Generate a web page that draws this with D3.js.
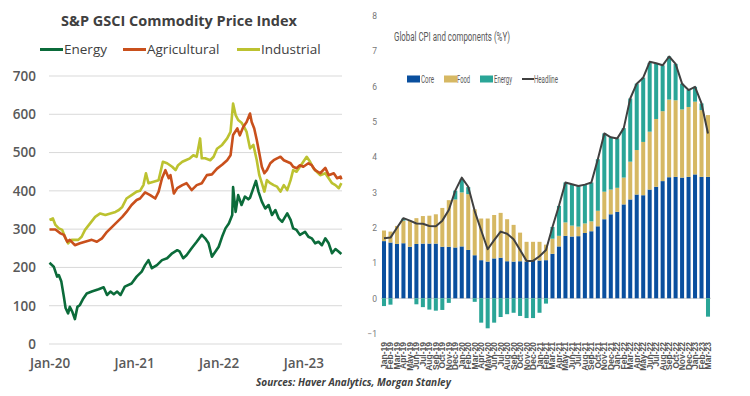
<!DOCTYPE html>
<html><head><meta charset="utf-8">
<script src="https://cdn.jsdelivr.net/npm/d3@7"></script>
<style>body{margin:0;background:#fff}svg{display:block}</style>
</head><body>
<svg id="c" width="750" height="396"></svg>
<script>
// ---------- Left panel data ----------
const commodityTitle = "S&P GSCI Commodity Price Index";
const commodityNames = ["Energy", "Agricultural", "Industrial"];
const commodityColors = ["#0b6b3a", "#c9501c", "#bcc230"];
const commodityYTicks = [0, 100, 200, 300, 400, 500, 600, 700];
const commodityXTicks = [2020, 2021, 2022, 2023];
const commodityXLabels = ["Jan-20", "Jan-21", "Jan-22", "Jan-23"];
const sourceNote = "Sources: Haver Analytics, Morgan Stanley";

// [decimal year, index level]
const energyIndex = [
 [2020.00,212],[2020.05,202],[2020.09,176],[2020.11,180],[2020.14,163],[2020.17,123],[2020.19,94],[2020.22,80],
 [2020.24,97],[2020.27,84],[2020.30,65],[2020.33,97],[2020.36,102],[2020.40,119],[2020.44,132],[2020.50,137],
 [2020.58,143],[2020.64,148],[2020.68,128],[2020.72,137],[2020.76,130],[2020.80,137],[2020.84,128],[2020.89,150],
 [2020.97,158],[2021.03,176],[2021.09,189],[2021.13,206],[2021.17,219],[2021.21,198],[2021.27,206],[2021.33,219],
 [2021.39,224],[2021.45,237],[2021.51,245],[2021.54,241],[2021.58,224],[2021.62,232],[2021.68,250],[2021.74,267],
 [2021.80,285],[2021.84,276],[2021.88,263],[2021.92,228],[2021.96,241],[2022.00,254],[2022.04,280],[2022.08,302],
 [2022.12,315],[2022.16,337],[2022.17,410],[2022.20,345],[2022.23,389],[2022.27,363],[2022.31,385],[2022.35,378],
 [2022.37,382],[2022.41,407],[2022.44,426],[2022.47,398],[2022.51,372],[2022.55,354],[2022.59,363],[2022.63,337],
 [2022.67,350],[2022.71,328],[2022.75,319],[2022.81,341],[2022.85,324],[2022.88,302],[2022.92,298],[2022.96,285],
 [2023.02,293],[2023.06,280],[2023.10,276],[2023.14,263],[2023.18,267],[2023.22,258],[2023.26,276],[2023.30,263],
 [2023.34,237],[2023.38,248],[2023.42,241],[2023.45,235]
];
const agriculturalIndex = [
 [2020.00,299],[2020.07,299],[2020.13,289],[2020.17,285],[2020.21,267],[2020.24,272],[2020.30,258],[2020.36,263],
 [2020.42,267],[2020.50,272],[2020.56,267],[2020.62,276],[2020.68,293],[2020.74,306],[2020.80,319],[2020.86,332],
 [2020.91,345],[2020.97,363],[2021.03,376],[2021.07,380],[2021.13,396],[2021.19,389],[2021.25,380],[2021.29,398],
 [2021.33,433],[2021.37,454],[2021.41,433],[2021.43,441],[2021.47,393],[2021.51,407],[2021.57,415],[2021.62,420],
 [2021.68,402],[2021.74,415],[2021.80,420],[2021.86,441],[2021.92,443],[2021.98,458],[2022.04,468],[2022.10,480],
 [2022.14,493],[2022.17,546],[2022.22,563],[2022.25,545],[2022.29,567],[2022.33,580],[2022.37,602],[2022.39,580],
 [2022.42,563],[2022.45,533],[2022.48,498],[2022.51,463],[2022.54,446],[2022.57,454],[2022.61,472],[2022.65,480],
 [2022.69,485],[2022.73,489],[2022.77,480],[2022.81,476],[2022.85,472],[2022.88,463],[2022.92,459],[2022.96,467],
 [2023.00,463],[2023.06,472],[2023.10,467],[2023.14,454],[2023.20,446],[2023.26,460],[2023.30,441],[2023.36,446],
 [2023.40,433],[2023.44,437],[2023.45,430]
];
const industrialIndex = [
 [2020.00,324],[2020.04,328],[2020.07,311],[2020.11,302],[2020.15,298],[2020.19,276],[2020.22,263],[2020.26,272],
 [2020.30,272],[2020.34,272],[2020.38,280],[2020.42,298],[2020.48,315],[2020.54,332],[2020.60,341],[2020.66,337],
 [2020.72,341],[2020.78,345],[2020.82,350],[2020.86,358],[2020.91,380],[2020.97,389],[2021.03,398],[2021.07,400],
 [2021.11,415],[2021.14,446],[2021.17,420],[2021.23,424],[2021.29,428],[2021.34,476],[2021.39,472],[2021.45,463],
 [2021.49,454],[2021.52,467],[2021.57,476],[2021.61,480],[2021.66,485],[2021.70,493],[2021.74,489],[2021.78,537],
 [2021.80,485],[2021.84,485],[2021.90,480],[2021.94,489],[2021.98,510],[2022.04,520],[2022.10,537],[2022.14,554],
 [2022.17,628],[2022.20,598],[2022.23,585],[2022.27,578],[2022.30,567],[2022.33,554],[2022.37,511],[2022.41,520],
 [2022.45,480],[2022.48,441],[2022.51,420],[2022.54,398],[2022.57,428],[2022.61,420],[2022.65,415],[2022.69,411],
 [2022.73,398],[2022.77,415],[2022.81,402],[2022.85,428],[2022.88,454],[2022.92,450],[2022.96,463],[2023.00,476],
 [2023.04,489],[2023.08,476],[2023.12,459],[2023.16,450],[2023.20,441],[2023.26,446],[2023.30,433],[2023.34,420],
 [2023.38,415],[2023.42,407],[2023.45,420]
];

// ---------- Right panel data ----------
const cpiTitle = "Global CPI and components (%Y)";
const cpiLegend = ["Core", "Food", "Energy", "Headline"];
const cpiColors = ["#0a4f9e", "#d6b863", "#2aa597", "#404040"];
const cpiYTicks = [-1, 0, 1, 2, 3, 4, 5, 6, 7, 8];
const cpiMonths = [
 "Jan-19","Feb-19","Mar-19","Apr-19","May-19","Jun-19","Jul-19","Aug-19","Sep-19","Oct-19","Nov-19","Dec-19",
 "Jan-20","Feb-20","Mar-20","Apr-20","May-20","Jun-20","Jul-20","Aug-20","Sep-20","Oct-20","Nov-20","Dec-20",
 "Jan-21","Feb-21","Mar-21","Apr-21","May-21","Jun-21","Jul-21","Aug-21","Sep-21","Oct-21","Nov-21","Dec-21",
 "Jan-22","Feb-22","Mar-22","Apr-22","May-22","Jun-22","Jul-22","Aug-22","Sep-22","Oct-22","Nov-22","Dec-22",
 "Jan-23","Feb-23","Mar-23"
];
const cpiCore = [
 1.62,1.58,1.54,1.56,1.46,1.54,1.55,1.55,1.55,1.46,1.46,1.44,
 1.47,1.37,1.22,1.08,1.04,1.13,1.15,1.05,1.04,1.05,1.04,1.07,
 1.07,1.08,1.26,1.47,1.77,1.75,1.76,1.85,1.90,2.04,2.24,2.38,
 2.45,2.66,2.80,2.94,2.92,3.08,3.16,3.32,3.43,3.44,3.42,3.44,
 3.51,3.44,3.44
];
const cpiFood = [
 0.30,0.31,0.51,0.64,0.74,0.73,0.78,0.79,0.83,1.10,1.32,1.36,
 1.53,1.58,1.30,1.18,1.22,1.23,1.27,1.19,1.04,0.81,0.56,0.53,
 0.53,0.44,0.43,0.30,0.38,0.31,0.27,0.27,0.28,0.44,0.78,0.70,
 0.68,0.76,1.07,1.26,1.51,1.64,1.92,1.98,2.20,2.17,1.93,1.98,
 2.06,1.89,1.75
];
const cpiEnergy = [
 -0.22,-0.18,0.00,0.06,0.00,-0.17,-0.25,-0.32,-0.35,-0.33,-0.13,0.25,
 0.38,0.20,-0.10,-0.69,-0.85,-0.69,-0.53,-0.45,-0.41,-0.50,-0.56,-0.56,
 -0.41,-0.15,0.33,0.85,1.13,1.17,1.15,1.10,1.10,1.46,1.65,1.48,
 1.40,1.40,1.79,1.88,1.82,1.95,1.58,1.30,1.22,1.03,0.73,0.48,
 0.42,0.19,-0.52
];
const cpiHeadline = [
 1.70,1.72,2.00,2.27,2.20,2.12,2.11,2.05,2.04,2.20,2.50,3.05,
 3.42,3.16,2.47,1.92,1.39,1.65,1.89,1.83,1.67,1.37,1.06,1.06,
 1.19,1.37,2.02,2.62,3.28,3.23,3.18,3.22,3.28,3.94,4.67,4.56,
 4.53,4.82,5.66,6.08,6.25,6.70,6.66,6.60,6.85,6.64,6.08,5.90,
 5.99,5.52,4.67
];

const svg = d3.select("#c");
svg.append("rect").attr("width", 750).attr("height", 396).attr("fill", "#fff");

// ================= LEFT PANEL =================
const L = svg.append("g");
const lx = d3.scaleLinear().domain([2020, 2023]).range([49.5, 303.3]);
const ly = d3.scaleLinear().domain([0, 700]).range([344, 76]);
const leftFont = "'Open Sans', 'Noto Sans', sans-serif";
const gray = "#595959";

L.append("text").attr("x", 179).attr("y", 26).attr("text-anchor", "middle")
  .attr("font-family", leftFont).attr("font-weight", 700).attr("font-size", 14.5)
  .attr("fill", "#404040").text(commodityTitle);

// gridlines
L.append("g").selectAll("line").data(commodityYTicks).join("line")
  .attr("x1", 49).attr("x2", 342).attr("y1", d => ly(d)).attr("y2", d => ly(d))
  .attr("stroke", "#d9d9d9").attr("stroke-width", 1);

// y axis
const lyAxis = d3.axisLeft(ly).tickValues(commodityYTicks).tickSize(0).tickPadding(0);
L.append("g").attr("transform", "translate(36,0)").call(lyAxis)
  .call(g => g.select(".domain").remove())
  .selectAll("text").attr("font-family", leftFont).attr("font-size", 13.5)
  .attr("font-weight", 600).attr("fill", gray);

// x axis
const lxAxis = d3.axisBottom(lx).tickValues(commodityXTicks)
  .tickFormat((d, i) => commodityXLabels[i]).tickSize(0).tickPadding(0);
L.append("g").attr("transform", "translate(0,358)").call(lxAxis)
  .call(g => g.select(".domain").remove())
  .selectAll("text").attr("font-family", leftFont).attr("font-size", 13.5)
  .attr("font-weight", 600).attr("fill", gray);

// lines
const lineGen = d3.line().x(d => lx(d[0])).y(d => ly(d[1])).curve(d3.curveLinear);
const seriesData = [energyIndex, agriculturalIndex, industrialIndex];
[2, 1, 0].forEach(i => {
  L.append("path").datum(seriesData[i]).attr("d", lineGen).attr("fill", "none")
    .attr("stroke", commodityColors[i]).attr("stroke-width", 2.6)
    .attr("stroke-linejoin", "round");
});

// legend
const legX = [40, 123, 237];
commodityNames.forEach((n, i) => {
  L.append("line").attr("x1", legX[i]).attr("x2", legX[i] + 23).attr("y1", 49.5).attr("y2", 49.5)
    .attr("stroke", commodityColors[i]).attr("stroke-width", 3);
  L.append("text").attr("x", legX[i] + 24).attr("y", 54).attr("font-family", leftFont)
    .attr("font-size", 13.5).attr("font-weight", 500).attr("fill", "#404040").text(n);
});

// source note
svg.append("text").attr("x", 256).attr("y", 386).attr("font-family", leftFont)
  .attr("font-size", 10).attr("font-weight", 700).attr("font-style", "italic")
  .attr("fill", "#404040").text(sourceNote);

// ================= RIGHT PANEL =================
const R = svg.append("g");
const rFont = "'Liberation Sans Narrow', 'Roboto', 'Liberation Sans', sans-serif";
const rx = d3.scaleBand().domain(cpiMonths).range([380.76, 711.24]).paddingInner(0.38).paddingOuter(0.19);
const ry = d3.scaleLinear().domain([-1, 8]).range([333.6, 15.9]);

// title
R.append("text").attr("x", 394).attr("y", 41).attr("font-family", rFont)
  .attr("font-size", 12).attr("fill", "#595959")
  .attr("textLength", 116).attr("lengthAdjust", "spacingAndGlyphs").text(cpiTitle);

// y axis labels
const ryAxis = d3.axisLeft(ry).tickValues(cpiYTicks).tickSize(0).tickPadding(0).tickFormat(d3.format("d"));
R.append("g").attr("transform", "translate(377,0)").call(ryAxis)
  .call(g => g.select(".domain").remove())
  .selectAll("text").attr("font-family", rFont).attr("font-size", 8.5).attr("fill", "#777");

// zero line
R.append("line").attr("x1", 381).attr("x2", 711).attr("y1", ry(0)).attr("y2", ry(0))
  .attr("stroke", "#d0d0d0").attr("stroke-width", 1);

// stacked bars
const bars = cpiMonths.map((m, i) => ({ m, core: cpiCore[i], food: cpiFood[i], energy: cpiEnergy[i] }));
const bw = rx.bandwidth();
const bg = R.append("g");
bg.selectAll(".core").data(bars).join("rect").attr("class", "core")
  .attr("x", d => rx(d.m)).attr("width", bw)
  .attr("y", d => ry(d.core)).attr("height", d => ry(0) - ry(d.core)).attr("fill", cpiColors[0]);
bg.selectAll(".food").data(bars).join("rect").attr("class", "food")
  .attr("x", d => rx(d.m)).attr("width", bw)
  .attr("y", d => ry(d.core + d.food)).attr("height", d => ry(d.core) - ry(d.core + d.food)).attr("fill", cpiColors[1]);
bg.selectAll(".energy").data(bars.filter(d => d.energy !== 0)).join("rect").attr("class", "energy")
  .attr("x", d => rx(d.m)).attr("width", bw)
  .attr("y", d => d.energy > 0 ? ry(d.core + d.food + d.energy) : ry(0))
  .attr("height", d => d.energy > 0 ? ry(d.core + d.food) - ry(d.core + d.food + d.energy) : ry(d.energy) - ry(0))
  .attr("fill", cpiColors[2]);

// headline line
const hl = d3.line().x((d, i) => rx(cpiMonths[i]) + bw / 2).y(d => ry(d));
R.append("path").datum(cpiHeadline).attr("d", hl).attr("fill", "none")
  .attr("stroke", cpiColors[3]).attr("stroke-width", 2).attr("stroke-linejoin", "round");

// x labels (rotated)
const rxAxis = d3.axisBottom(rx).tickSize(0).tickPadding(0);
R.append("g").attr("transform", "translate(0,342)").call(rxAxis)
  .call(g => g.select(".domain").remove())
  .selectAll("text")
  .attr("font-family", "'Liberation Sans', Arial, sans-serif").attr("font-size", 8.5)
  .attr("font-weight", 700).attr("fill", "#555")
  .attr("text-anchor", "end").attr("transform", "rotate(-90)")
  .attr("x", 0).attr("y", 0).attr("dy", "0.35em");

// legend
const rl = R.append("g");
const swX = [407, 444, 480];
const txW = [13, 13, 18, 24];
[0, 1, 2].forEach(i => {
  rl.append("rect").attr("x", swX[i]).attr("y", 75.5).attr("width", 13).attr("height", 7).attr("fill", cpiColors[i]);
});
rl.append("line").attr("x1", 522).attr("x2", 534).attr("y1", 79).attr("y2", 79)
  .attr("stroke", cpiColors[3]).attr("stroke-width", 2);
[421, 457, 494, 534].forEach((x, i) => {
  rl.append("text").attr("x", x).attr("y", 83).attr("font-family", rFont).attr("font-size", 10)
    .attr("fill", "#595959").attr("textLength", txW[i]).attr("lengthAdjust", "spacingAndGlyphs")
    .text(cpiLegend[i]);
});
</script>
</body></html>
